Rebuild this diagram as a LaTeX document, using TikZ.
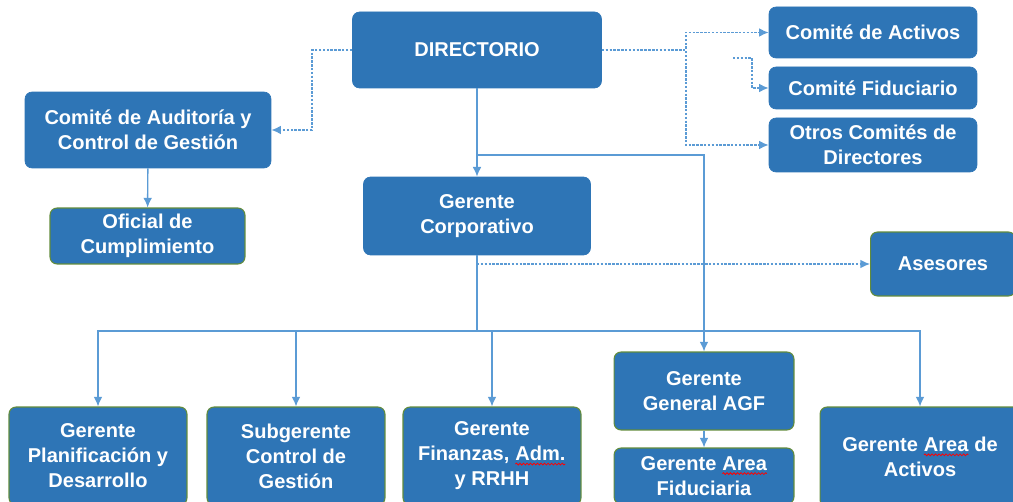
\documentclass[tikz,border=0pt]{standalone}
\usepackage{fontspec}
\setmainfont{Liberation Sans}
\usetikzlibrary{shapes, arrows.meta, positioning, calc, decorations.pathmorphing}
\definecolor{orgblue}{RGB}{46,117,182}
\definecolor{orgline}{RGB}{91,155,213}
\definecolor{orggreen}{RGB}{98,140,60}

% red spell-check underline
\newcommand{\spellmark}[1]{\tikz[baseline=(w.base)]{\node[rectangle, draw=none, fill=none, inner sep=0pt,
    outer sep=0pt, minimum width=0pt, minimum height=0pt] (w) {#1};
  \draw[draw=red, line width=0.45pt, sharp corners, solid, decorate,
    decoration={snake, amplitude=0.5pt, segment length=2pt}]
    ([yshift=-1.8pt]w.base west) -- ([yshift=-1.8pt]w.base east);}}

\begin{document}
\begin{tikzpicture}[
      x=0.02cm, y=-0.02cm,
      box/.style={rectangle, rounded corners=4pt, draw=orgblue, fill=orgblue, text=white,
        font=\fontsize{11.4}{14.2}\selectfont\bfseries, align=center, inner sep=2pt},
      gbox/.style={box, draw=orggreen, line width=0.6pt},
      line/.style={draw=orgline, line width=0.8pt},
      arrow/.style={-{Latex[length=5.5pt, width=5pt]}, line},
      dotarrow/.style={arrow, dash pattern=on 1.4pt off 0.8pt}
    ]
      \useasboundingbox (0,0) rectangle (1013,502);
      \clip (0,0) rectangle (1013,502);

      % Board and committees
      \node[box, minimum width=4.98cm, minimum height=1.52cm] (dir) at (477,50) {DIRECTORIO};
      \node[box, minimum width=4.16cm, minimum height=1.02cm] (cact) at (873,32.5) {Comité de Activos};
      \node[box, minimum width=4.16cm, minimum height=0.84cm] (cfid) at (873,88) {Comité Fiduciario};
      \node[box, minimum width=4.16cm, minimum height=1.08cm] (cotr) at (873,145) {Otros Comités de\\Directores};
      \node[box, minimum width=4.92cm, minimum height=1.52cm] (caud) at (148,130) {Comité de Auditoría y\\Control de Gestión};
      \node[gbox, minimum width=3.9cm, minimum height=1.12cm] (ofic) at (147.5,236) {Oficial de\\Cumplimiento};

      % Management
      \node[box, minimum width=4.54cm, minimum height=1.56cm] (gcorp) at (477,216) {Gerente\\Corporativo};
      \node[gbox, minimum width=2.9cm, minimum height=1.28cm] (ases) at (943,264) {Asesores};

      % Managers row
      \node[gbox, minimum width=3.56cm, minimum height=1.96cm] (gplan) at (98,456) {Gerente\\Planificación y\\Desarrollo};
      \node[gbox, minimum width=3.56cm, minimum height=1.96cm] (subg) at (296,456) {Subgerente\\Control de\\Gestión};
      \node[gbox, minimum width=3.56cm, minimum height=1.96cm] (gfin) at (492,456) {Gerente\\Finanzas, \spellmark{Adm.}\\y RRHH};
      \node[gbox, minimum width=3.6cm, minimum height=1.56cm] (gagf) at (704,391) {Gerente\\General AGF};
      \node[gbox, minimum width=3.6cm, minimum height=1.12cm] (gfid) at (704,476) {Gerente \spellmark{Area}\\Fiduciaria};
      \node[gbox, minimum width=4cm, minimum height=2cm] (gact) at (920,457) {Gerente \spellmark{Area} de\\Activos};

      % Dotted links
      \coordinate (fidstub) at (733,58);
      \draw[dotarrow] (dir.west) -- ++(-40,0) |- (caud);
      \draw[dotarrow] (dir.east) -- ++(84,0) |- (cact);
      \draw[dotarrow] (dir.east) -- ++(84,0) |- (cotr);
      \draw[dotarrow] (fidstub) -- ++(19,0) |- (cfid);
      \draw[dotarrow] (gcorp.south |- ases.west) -- (ases.west);

      % Solid links
      \coordinate (bus) at (477,331);
      \draw[arrow] (dir) -- (gcorp);
      \draw[arrow] (dir.south |- 0,155) -| (gagf);
      \draw[arrow] (caud) -- (ofic);
      \draw[arrow] (gagf) -- (gfid);
      \draw[line] (gcorp.south) -- (bus);
      \foreach \b in {gplan, subg, gfin, gact}
        \draw[arrow] (bus) -| (\b.north);
    \end{tikzpicture}
\end{document}
